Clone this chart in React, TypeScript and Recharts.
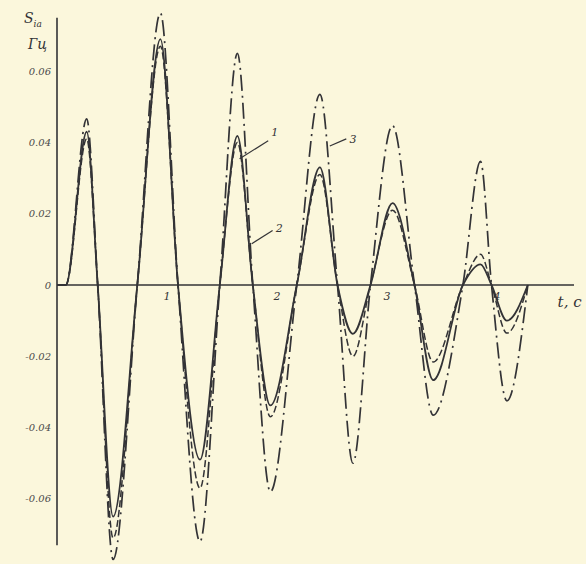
import React from 'react';
import { LineChart, Line, XAxis, YAxis, ReferenceLine, ReferenceDot } from 'recharts';

// time (s) of each read feature: start, peaks, zero crossings, troughs
const times = [0, 0.08, 0.27, 0.37, 0.51, 0.73, 0.94, 1.1, 1.3, 1.48, 1.64, 1.78, 1.94, 2.18, 2.39, 2.55, 2.69, 2.85, 3.05, 3.25, 3.42, 3.69, 3.85, 3.95, 4.09, 4.28];

const curve1 = [0, 0, 0.043, 0, -0.065, 0, 0.069, 0, -0.049, 0, 0.0418, 0, -0.0338, 0, 0.033, 0, -0.0137, 0, 0.023, 0, -0.0267, 0, 0.0058, 0, -0.01, 0];
const curve2 = [0, 0, 0.041, 0, -0.071, 0, 0.067, 0, -0.057, 0, 0.04, 0, -0.037, 0, 0.031, 0, -0.02, 0, 0.021, 0, -0.0216, 0, 0.0086, 0, -0.0135, 0];
const curve3 = [0, 0, 0.0466, 0, -0.077, 0, 0.0763, 0, -0.072, 0, 0.065, 0, -0.058, 0, 0.0535, 0, -0.05, 0, 0.0447, 0, -0.0365, 0, 0.0347, 0, -0.0325, 0];

const yTicks = [-0.06, -0.04, -0.02, 0, 0.02, 0.04, 0.06];
const xTickValues = [1, 2, 3, 4];

// curve number labels with leader lines (t, value)
const curveLabels = [
  { text: '1', t: 1.98, v: 0.043, from: [1.66, 0.0354], to: [1.92, 0.0405] },
  { text: '2', t: 2.02, v: 0.016, from: [1.77, 0.0116], to: [1.96, 0.0153] },
  { text: '3', t: 2.69, v: 0.041, from: [2.48, 0.039], to: [2.63, 0.041] },
];

const data = times.map((t, i) => ({ t, c1: curve1[i], c2: curve2[i], c3: curve3[i] }));

const ink = '#333336';
const labelFont = { fontFamily: 'DejaVu Serif, serif', fontStyle: 'italic' as const };

export default function App() {
  return (
    <div style={{ position: 'fixed', left: 0, top: 0, width: 586, height: 564, background: '#fbf7dc' }}>
      <div style={{ position: 'absolute', left: 24, top: 10, color: ink, ...labelFont, fontSize: 14, lineHeight: '16px' }}>
        S<sub style={{ fontSize: 9 }}>ia</sub>
      </div>
      <div style={{ position: 'absolute', left: 28, top: 36, color: ink, ...labelFont, fontSize: 14 }}>Гц</div>
      <LineChart width={586} height={564} data={data} margin={{ top: 7, right: 12, bottom: 1, left: 7 }}>
        <XAxis dataKey="t" type="number" domain={[0, 4.7]} hide />
        <YAxis
          type="number"
          domain={[-0.078, 0.078]}
          ticks={yTicks}
          width={50}
          axisLine={false}
          tickLine={false}
          tickSize={3}
          tickMargin={3}
          tickFormatter={(v: number) => (v === 0 ? '0' : v.toFixed(2))}
          tick={{ fill: '#4a4a4a', fontSize: 10, ...labelFont }}
        />
        <ReferenceLine segment={[{ x: 0, y: -0.073 }, { x: 0, y: 0.075 }]} stroke={ink} strokeWidth={1.6} />
        <ReferenceLine y={0} stroke={ink} strokeWidth={1.6} />
        {xTickValues.map((k) => (
          <ReferenceDot key={k} x={k} y={0} r={1} fill="none" stroke="none"
            label={{ value: String(k), position: 'bottom', offset: 6, fill: ink, fontSize: 11, ...labelFont }} />
        ))}
        <ReferenceDot x={4.66} y={0} r={1} fill="none" stroke="none"
          label={{ value: 't, c', position: 'bottom', offset: 10, fill: ink, fontSize: 15, ...labelFont }} />
        {curveLabels.map((c) => (
          <ReferenceLine key={'l' + c.text} segment={[{ x: c.from[0], y: c.from[1] }, { x: c.to[0], y: c.to[1] }]} stroke={ink} strokeWidth={1.2} />
        ))}
        {curveLabels.map((c) => (
          <ReferenceDot key={'d' + c.text} x={c.t} y={c.v} r={1} fill="none" stroke="none"
            label={{ value: c.text, position: 'center', fill: ink, fontSize: 11, ...labelFont }} />
        ))}
        <Line type="monotone" dataKey="c3" stroke={ink} strokeWidth={1.7} strokeDasharray="16 5 2 5" dot={false} isAnimationActive={false} />
        <Line type="monotone" dataKey="c2" stroke={ink} strokeWidth={1.5} strokeDasharray="7 3" dot={false} isAnimationActive={false} />
        <Line type="monotone" dataKey="c1" stroke={ink} strokeWidth={1.8} dot={false} isAnimationActive={false} />
      </LineChart>
    </div>
  );
}
